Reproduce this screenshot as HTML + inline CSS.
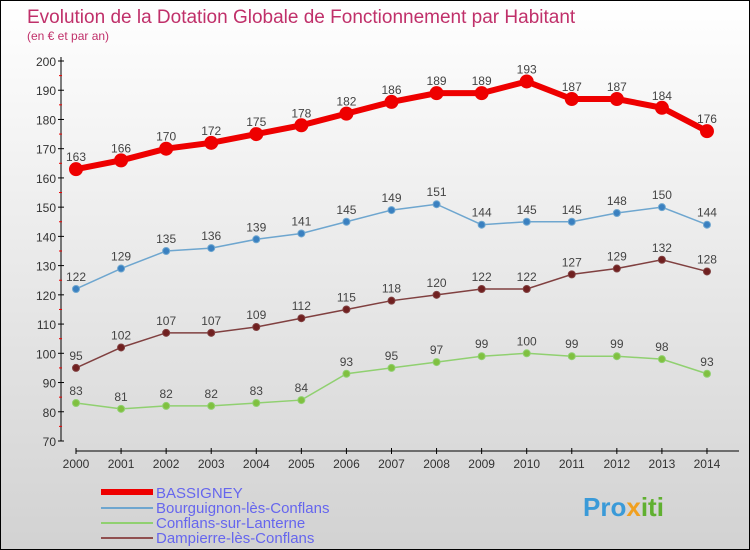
<!DOCTYPE html>
<html><head><meta charset="utf-8"><style>
body{margin:0}
#c{width:750px;height:550px;position:relative;background:linear-gradient(#ffffff,#d2d2d2);box-sizing:border-box;border:1px solid #000;font-family:"Liberation Sans",sans-serif}
</style></head><body>
<div id="c">
<svg id="s" width="748" height="548" style="position:absolute;left:0;top:0" font-family="Liberation Sans, sans-serif">
<text x="26" y="22" font-size="19" fill="#c0306a">Evolution de la Dotation Globale de Fonctionnement par Habitant</text>
<text x="26" y="39" font-size="12" fill="#c0306a">(en € et par an)</text>
<g id="ax"></g><g id="sr"></g>
<g>
<line x1="100" y1="491" x2="152" y2="491" stroke="#e00" stroke-width="6"/>
<text x="155" y="497" font-size="15" fill="#6666ee">BASSIGNEY</text>
<line x1="100" y1="507" x2="152" y2="507" stroke="#6ea6cf" stroke-width="2"/>
<text x="155" y="512" font-size="15" fill="#6666ee">Bourguignon-lès-Conflans</text>
<line x1="100" y1="522" x2="152" y2="522" stroke="#90d070" stroke-width="2"/>
<text x="155" y="527" font-size="15" fill="#6666ee">Conflans-sur-Lanterne</text>
<line x1="100" y1="537" x2="152" y2="537" stroke="#905050" stroke-width="2"/>
<text x="155" y="542" font-size="15" fill="#6666ee">Dampierre-lès-Conflans</text>
</g>
<text x="582" y="515" font-size="26" font-weight="bold" fill="#3a9ad8">Pro<tspan fill="#f0a020">x</tspan><tspan fill="#60b030">iti</tspan></text>
</svg>
</div>
<script>
const years=[2000,2001,2002,2003,2004,2005,2006,2007,2008,2009,2010,2011,2012,2013,2014];
const bassigney=[163,166,170,172,175,178,182,186,189,189,193,187,187,184,176];
const bourguignon=[122,129,135,136,139,141,145,149,151,144,145,145,148,150,144];
const dampierre=[95,102,107,107,109,112,115,118,120,122,122,127,129,132,128];
const conflans=[83,81,82,82,83,84,93,95,97,99,100,99,99,98,93];
const yTicks=[70,80,90,100,110,120,130,140,150,160,170,180,190,200];
const NS="http://www.w3.org/2000/svg";
const X=i=>75+i*45.07, Y=v=>60+(200-v)*2.923;
function mk(t,a,p){const e=document.createElementNS(NS,t);for(const k in a)e.setAttribute(k,a[k]);p.appendChild(e);return e;}
const ax=document.getElementById('ax'),sr=document.getElementById('sr');
let l=mk('line',{x1:60,y1:56,x2:60,y2:440,stroke:'#000'},ax);


l=mk('line',{x1:75,y1:450,x2:738,y2:450,stroke:'#000'},ax);


yTicks.forEach(v=>{mk('line',{x1:57,y1:Y(v),x2:63,y2:Y(v),stroke:'#000'},ax);
 if(v>70)mk('line',{x1:58,y1:Y(v-5),x2:61,y2:Y(v-5),stroke:'#e00'},ax);
 const t=mk('text',{x:55,y:Y(v)+5,'font-size':12,fill:'#333','text-anchor':'end'},ax);t.textContent=v;
 
 });
years.forEach((y,i)=>{mk('line',{x1:X(i),y1:447,x2:X(i),y2:453,stroke:'#000'},ax);
 const t=mk('text',{x:X(i),y:467,'font-size':12,fill:'#333','text-anchor':'middle'},ax);t.textContent=y;
 
 });
function series(d,name,col,w,r,dot){
 const g=mk('g',{},sr);
 
 
 mk('polyline',{points:d.map((v,i)=>X(i)+','+Y(v)).join(' '),fill:'none',stroke:col,'stroke-width':w},g);
 d.forEach((v,i)=>{const c=mk('circle',{cx:X(i),cy:Y(v),r:r,fill:dot,stroke:col,'stroke-width':1},g);
  
  
  const t=mk('text',{x:X(i),y:Y(v)-8,'font-size':12,fill:'#444','text-anchor':'middle'},g);t.textContent=v;});
}
series(conflans,'conflans-series','#90d070',1.5,3.5,'#80c040');
series(dampierre,'dampierre-series','#804040',1.5,3.5,'#702020');
series(bourguignon,'bourguignon-series','#6ea6cf',1.5,3.5,'#3a80c0');
series(bassigney,'bassigney-series','#e00',6,6.5,'#e00');
</script>
</body></html>
